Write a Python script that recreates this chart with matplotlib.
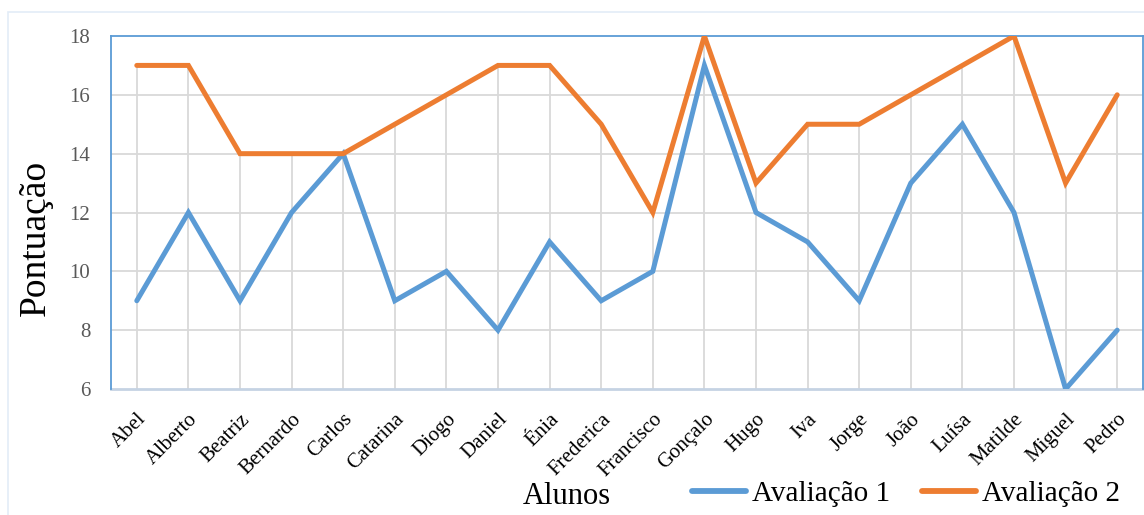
import matplotlib
matplotlib.use("Agg")
import matplotlib.pyplot as plt
from matplotlib.patches import Rectangle
from matplotlib.transforms import ScaledTranslation

alunos = ["Abel", "Alberto", "Beatriz", "Bernardo", "Carlos", "Catarina", "Diogo",
          "Daniel", "Énia", "Frederica", "Francisco", "Gonçalo", "Hugo", "Iva",
          "Jorge", "João", "Luísa", "Matilde", "Miguel", "Pedro"]
avaliacao_1 = [9, 12, 9, 12, 14, 9, 10, 8, 11, 9, 10, 17, 12, 11, 9, 13, 15, 12, 6, 8]
avaliacao_2 = [17, 17, 14, 14, 14, 15, 16, 17, 17, 15, 12, 18, 13, 15, 15, 16, 17, 18, 13, 16]
y_ticks = [6, 8, 10, 12, 14, 16, 18]

SERIF = ["Liberation Serif", "DejaVu Serif"]
plt.rcParams["font.family"] = SERIF

BLUE = "#5B9BD5"
ORANGE = "#ED7D31"
GRID = "#D9D9D9"

fig = plt.figure(figsize=(11.44, 5.15), dpi=100)
ax = fig.add_axes([111 / 1144, 126 / 515, 1032 / 1144, 353 / 515])

x = list(range(len(alunos)))

# horizontal gridlines
for yv in y_ticks[1:-1]:
    ax.axhline(yv, color=GRID, lw=1.3, zorder=1)
# drop lines from the upper series down to the axis
ax.vlines(x, y_ticks[0], avaliacao_2, color=GRID, lw=1.3, zorder=1)

l1, = ax.plot(x, avaliacao_1, color=BLUE, lw=3.6, solid_capstyle="round",
              solid_joinstyle="miter", zorder=3, label="Avaliação 1")
l2, = ax.plot(x, avaliacao_2, color=ORANGE, lw=3.6, solid_capstyle="round",
              solid_joinstyle="miter", zorder=4, label="Avaliação 2")

ax.set_xlim(-0.5, len(alunos) - 0.5)
ax.set_ylim(y_ticks[0], y_ticks[-1])
ax.set_yticks(y_ticks)
ax.set_xticks(x)
ax.set_xticklabels(alunos, rotation=45, ha="right", va="top",
                   rotation_mode="anchor", fontsize=15)
shift = ScaledTranslation(6 / 100, 0, fig.dpi_scale_trans)
for lbl in ax.get_xticklabels():
    lbl.set_transform(lbl.get_transform() + shift)
ax.tick_params(axis="y", length=0, pad=15, labelsize=15, labelcolor="#595959")
ax.tick_params(axis="x", length=0, pad=15)

for side in ["top", "left", "right"]:
    ax.spines[side].set_color(BLUE)
    ax.spines[side].set_linewidth(1.3)
ax.spines["bottom"].set_color("#C5D3E3")
ax.spines["bottom"].set_linewidth(2)
ax.spines["bottom"].set_zorder(2)

fig.text(36 / 1144, 1 - 238 / 515, "Pontuação", rotation=90, fontsize=27,
         family=SERIF, ha="center", va="center")
fig.text(567 / 1144, 1 - 497 / 515, "Alunos", fontsize=22, family=SERIF,
         ha="center", va="center")

leg = fig.legend(handles=[l1, l2], loc="center", bbox_to_anchor=(906 / 1144, 1 - 494 / 515),
                 ncol=2, frameon=False, prop={"family": SERIF, "size": 21},
                 handlelength=1.85, handletextpad=0.2, columnspacing=1.1, borderaxespad=0)
for h in leg.legend_handles:
    h.set_linewidth(4.2)

# light outer chart frame
fig.patches.append(Rectangle((8 / 1144, -0.1), 1.2, 1 - 12 / 515 + 0.1,
                             transform=fig.transFigure, fill=False,
                             edgecolor="#E3ECF7", lw=1.2))

fig.savefig("out.png", dpi=100)
